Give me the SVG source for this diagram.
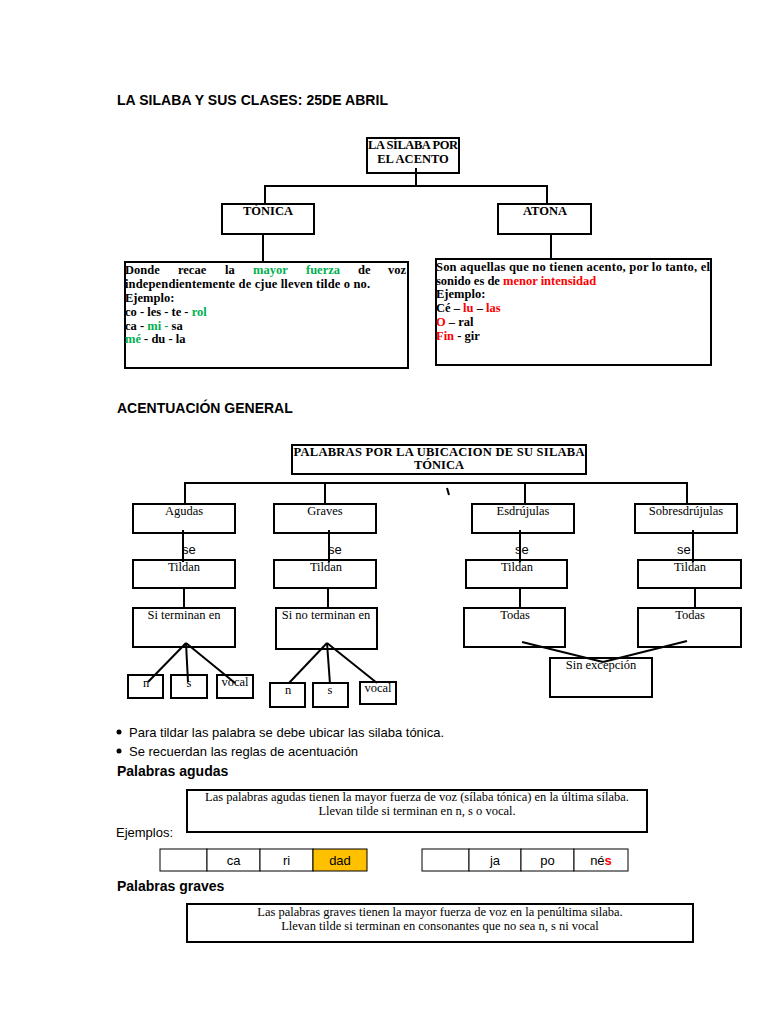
<svg xmlns="http://www.w3.org/2000/svg" width="768" height="1024" viewBox="0 0 768 1024">
<style>
.h{font-family:"Liberation Sans",Arial,sans-serif;font-weight:bold;fill:#000}
.a{font-family:"Liberation Sans",Arial,sans-serif;font-size:13px;fill:#000}
.tb{font-family:"Liberation Serif","Times New Roman",serif;font-weight:bold;font-size:12.5px;fill:#000}
.t{font-family:"Liberation Serif","Times New Roman",serif;font-size:12.5px;fill:#000}
.box{fill:none;stroke:#000;stroke-width:2}
.cell{fill:#fff;stroke:#000;stroke-width:1}
.ln{fill:none;stroke:#000;stroke-width:2}
.g{fill:#00B050}
.r{fill:#FF0000}
</style>
<rect width="768" height="1024" fill="#fff"/>

<text class="h" x="117" y="105" font-size="14" textLength="271">LA SILABA Y SUS CLASES: 25DE ABRIL</text>

<g id="connectors">
  <polyline class="ln" points="416,168 416,186"/>
  <polyline class="ln" points="265,204 265,186 547,186 547,204"/>
  <line class="ln" x1="263" y1="234" x2="263" y2="262"/>
  <line class="ln" x1="551" y1="234" x2="551" y2="259"/>

  <polyline class="ln" points="185,504 185,483 687,483 687,504"/>
  <line class="ln" x1="325" y1="483" x2="325" y2="504"/>
  <line class="ln" x1="525" y1="483" x2="525" y2="504"/>
  <line class="ln" x1="447" y1="488" x2="449" y2="495"/>

  <line class="ln" x1="183" y1="530" x2="183" y2="562"/>
  <line class="ln" x1="329" y1="530" x2="329" y2="562"/>
  <line class="ln" x1="520" y1="530" x2="520" y2="562"/>
  <line class="ln" x1="693" y1="530" x2="693" y2="562"/>

  <line class="ln" x1="184" y1="587" x2="184" y2="608"/>
  <line class="ln" x1="328" y1="587" x2="328" y2="608"/>
  <line class="ln" x1="520" y1="587" x2="520" y2="608"/>
  <line class="ln" x1="695" y1="587" x2="695" y2="608"/>

  <line class="ln" x1="186" y1="643" x2="148" y2="682"/>
  <line class="ln" x1="186" y1="643" x2="188" y2="682"/>
  <line class="ln" x1="186" y1="643" x2="235" y2="683"/>
  <line class="ln" x1="327" y1="643" x2="289" y2="683"/>
  <line class="ln" x1="327" y1="643" x2="330" y2="684"/>
  <line class="ln" x1="327" y1="643" x2="377" y2="683"/>

  <line class="ln" x1="522" y1="642" x2="603" y2="662"/>
  <line class="ln" x1="687" y1="641" x2="603" y2="662"/>
</g>

<g id="n-silaba">
  <rect class="box" x="367" y="138" width="92" height="35"/>
  <text class="tb" x="413" y="149" text-anchor="middle" textLength="90">LA SÍLABA POR</text>
  <text class="tb" x="413" y="163" text-anchor="middle">EL ACENTO</text>
</g>
<g id="n-tonica">
  <rect class="box" x="222" y="204" width="92" height="30"/>
  <text class="tb" x="268" y="215" text-anchor="middle">TÓNICA</text>
</g>
<g id="n-atona">
  <rect class="box" x="498" y="204" width="93" height="30"/>
  <text class="tb" x="545" y="215" text-anchor="middle">ATONA</text>
</g>
<g id="n-tonica-def">
  <rect class="box" x="125" y="262" width="283" height="106"/>
  <text class="tb" x="125" y="274">Donde</text>
  <text class="tb" x="178" y="274">recae</text>
  <text class="tb" x="225" y="274">la</text>
  <text class="tb g" x="253" y="274">mayor</text>
  <text class="tb g" x="306" y="274">fuerza</text>
  <text class="tb" x="358" y="274">de</text>
  <text class="tb" x="388" y="274">voz</text>
  <text class="tb" x="125" y="288" textLength="245">independientemente de cjue lleven tilde o no.</text>
  <text class="tb" x="125" y="302">Ejemplo:</text>
  <text class="tb" x="125" y="316">co - les - te - <tspan class="g">rol</tspan></text>
  <text class="tb" x="125" y="330">ca - <tspan class="g">mi -</tspan> sa</text>
  <text class="tb" x="125" y="343"><tspan class="g">mé</tspan> - du - la</text>
</g>
<g id="n-atona-def">
  <rect class="box" x="436" y="259" width="275" height="106"/>
  <text class="tb" x="436" y="271" textLength="274">Son aquellas que no tienen acento, por lo tanto, el</text>
  <text class="tb" x="436" y="285">sonido es de <tspan class="r">menor intensidad</tspan></text>
  <text class="tb" x="436" y="298">Ejemplo:</text>
  <text class="tb" x="436" y="312">Cé – <tspan class="r">lu</tspan> – <tspan class="r">las</tspan></text>
  <text class="tb" x="436" y="326"><tspan class="r">O</tspan> – ral</text>
  <text class="tb" x="436" y="340"><tspan class="r">Fin</tspan> - gir</text>
</g>

<text class="h" x="117" y="413" font-size="14">ACENTUACIÓN GENERAL</text>

<g id="n-palabras">
  <rect class="box" x="292" y="445" width="294" height="29"/>
  <text class="tb" x="439" y="456" text-anchor="middle" textLength="291">PALABRAS POR LA UBICACION DE SU SILABA</text>
  <text class="tb" x="439" y="469" text-anchor="middle">TÓNICA</text>
</g>

<g id="n-agudas">
  <rect class="box" x="133" y="504" width="102" height="29"/>
  <text class="t" x="184" y="515" text-anchor="middle">Agudas</text>
</g>
<g id="n-graves">
  <rect class="box" x="274" y="504" width="102" height="29"/>
  <text class="t" x="325" y="515" text-anchor="middle">Graves</text>
</g>
<g id="n-esdrujulas">
  <rect class="box" x="472" y="504" width="102" height="29"/>
  <text class="t" x="523" y="515" text-anchor="middle">Esdrújulas</text>
</g>
<g id="n-sobresdrujulas">
  <rect class="box" x="635" y="504" width="102" height="29"/>
  <text class="t" x="686" y="515" text-anchor="middle">Sobresdrújulas</text>
</g>

<g id="l-se">
  <text class="a" x="182" y="554">se</text>
  <text class="a" x="328" y="554">se</text>
  <text class="a" x="515" y="554">se</text>
  <text class="a" x="677" y="554">se</text>
</g>

<g id="n-tildan1">
  <rect class="box" x="133" y="560" width="102" height="28"/>
  <text class="t" x="184" y="571" text-anchor="middle">Tildan</text>
</g>
<g id="n-tildan2">
  <rect class="box" x="274" y="560" width="102" height="28"/>
  <text class="t" x="326" y="571" text-anchor="middle">Tildan</text>
</g>
<g id="n-tildan3">
  <rect class="box" x="466" y="560" width="101" height="28"/>
  <text class="t" x="517" y="571" text-anchor="middle">Tildan</text>
</g>
<g id="n-tildan4">
  <rect class="box" x="638" y="560" width="103" height="28"/>
  <text class="t" x="690" y="571" text-anchor="middle">Tildan</text>
</g>

<g id="n-siterminan">
  <rect class="box" x="133" y="608" width="102" height="39"/>
  <text class="t" x="184" y="619" text-anchor="middle">Si terminan en</text>
</g>
<g id="n-sinoterminan">
  <rect class="box" x="276" y="608" width="101" height="41"/>
  <text class="t" x="326" y="619" text-anchor="middle">Si no terminan en</text>
</g>
<g id="n-todas1">
  <rect class="box" x="464" y="608" width="101" height="39"/>
  <text class="t" x="515" y="619" text-anchor="middle">Todas</text>
</g>
<g id="n-todas2">
  <rect class="box" x="638" y="608" width="103" height="39"/>
  <text class="t" x="690" y="619" text-anchor="middle">Todas</text>
</g>
<g id="n-sinexcepcion">
  <rect class="box" x="550" y="658" width="102" height="39"/>
  <text class="t" x="601" y="669" text-anchor="middle">Sin excepción</text>
</g>

<g id="n-ag-n">
  <rect class="box" x="128" y="675" width="35" height="23"/>
  <text class="t" x="146" y="687" text-anchor="middle">n</text>
</g>
<g id="n-ag-s">
  <rect class="box" x="171" y="675" width="36" height="23"/>
  <text class="t" x="189" y="687" text-anchor="middle">s</text>
</g>
<g id="n-ag-vocal">
  <rect class="box" x="217" y="675" width="36" height="23"/>
  <text class="t" x="235" y="686" text-anchor="middle">vocal</text>
</g>
<g id="n-gr-n">
  <rect class="box" x="270" y="683" width="35" height="24"/>
  <text class="t" x="288" y="694" text-anchor="middle">n</text>
</g>
<g id="n-gr-s">
  <rect class="box" x="313" y="683" width="35" height="24"/>
  <text class="t" x="330" y="694" text-anchor="middle">s</text>
</g>
<g id="n-gr-vocal">
  <rect class="box" x="360" y="682" width="36" height="22"/>
  <text class="t" x="378" y="692" text-anchor="middle">vocal</text>
</g>

<g id="bullets">
  <circle cx="119" cy="732" r="2.5" fill="#000"/>
  <text class="a" x="129" y="737">Para tildar las palabra se debe ubicar las silaba tónica.</text>
  <circle cx="119" cy="751" r="2.5" fill="#000"/>
  <text class="a" x="129" y="756">Se recuerdan las reglas de acentuación</text>
</g>

<text class="h" x="117" y="776" font-size="14">Palabras agudas</text>
<g id="n-agudas-def">
  <rect class="box" x="187" y="790" width="460" height="42"/>
  <text class="t" x="417" y="801" text-anchor="middle">Las palabras agudas tienen la mayor fuerza de voz (sílaba tónica) en la última sílaba.</text>
  <text class="t" x="417" y="815" text-anchor="middle">Llevan tilde si terminan en n, s o vocal.</text>
</g>
<text class="a" x="116" y="837">Ejemplos:</text>

<g id="t-caridad">
  <rect class="cell" x="160" y="849" width="47" height="22"/>
  <rect class="cell" x="207" y="849" width="53" height="22"/>
  <rect class="cell" x="260" y="849" width="53" height="22"/>
  <rect class="cell" x="313" y="849" width="54" height="22" style="fill:#FFC000"/>
  <text class="a" x="233.5" y="865" text-anchor="middle">ca</text>
  <text class="a" x="286.5" y="865" text-anchor="middle">ri</text>
  <text class="a" x="340" y="865" text-anchor="middle">dad</text>
</g>
<g id="t-japones">
  <rect class="cell" x="422" y="849" width="47" height="22"/>
  <rect class="cell" x="469" y="849" width="52" height="22"/>
  <rect class="cell" x="521" y="849" width="53" height="22"/>
  <rect class="cell" x="574" y="849" width="54" height="22"/>
  <text class="a" x="495" y="865" text-anchor="middle">ja</text>
  <text class="a" x="547.5" y="865" text-anchor="middle">po</text>
  <text class="a" x="601" y="865" text-anchor="middle">né<tspan class="r" font-weight="bold">s</tspan></text>
</g>

<text class="h" x="117" y="891" font-size="14">Palabras graves</text>
<g id="n-graves-def">
  <rect class="box" x="187" y="904" width="506" height="38"/>
  <text class="t" x="440" y="916" text-anchor="middle">Las palabras graves tienen la mayor fuerza de voz en la penúltima silaba.</text>
  <text class="t" x="440" y="930" text-anchor="middle">Llevan tilde si terminan en consonantes que no sea n, s ni vocal</text>
</g>
</svg>
